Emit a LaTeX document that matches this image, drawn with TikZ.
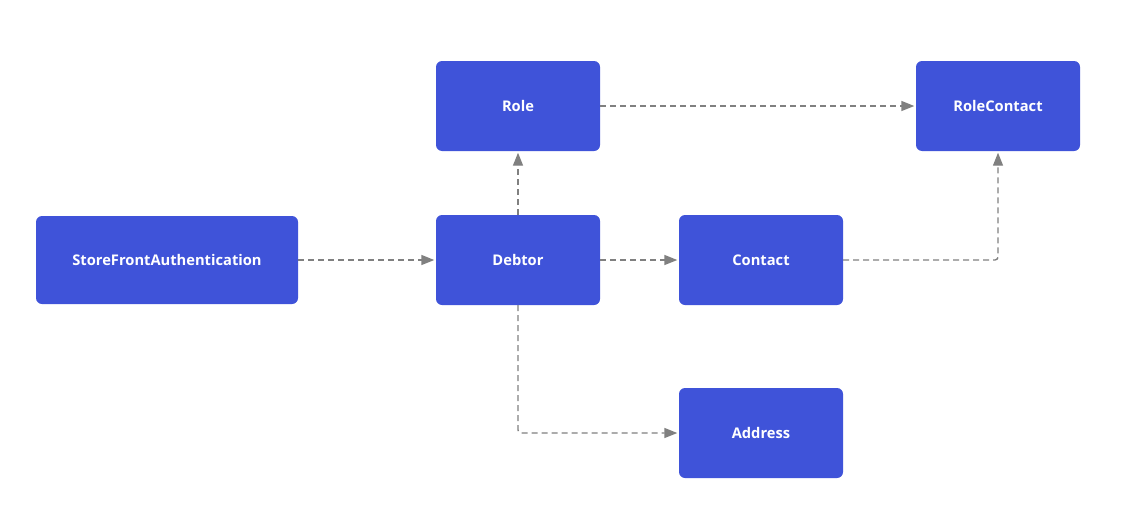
\documentclass[tikz,border=0pt]{standalone}
\usepackage{fontspec}
\setmainfont{Open Sans}
\usetikzlibrary{arrows.meta}

\definecolor{boxblue}{HTML}{3F53D9}
\definecolor{linkgray}{HTML}{808080}

\begin{document}
\begin{tikzpicture}[x=1pt,y=-1pt,
  entity/.style={draw=none,fill=boxblue,rounded corners=6pt,text=white,
    font=\fontsize{14.7}{17}\selectfont\bfseries,
    minimum width=164pt,minimum height=90pt,inner sep=0pt},
  link/.style={draw=linkgray,line width=1.4pt,dash pattern=on 6pt off 4pt,
    -{Triangle[length=13pt,width=10pt]},shorten >=1.5pt,rounded corners=3pt}]
  % 1. Canvas
  \useasboundingbox (0,0) rectangle (1137,522);

  % 2. Entities
  \node[entity,minimum width=262pt,minimum height=88pt] (auth) at (167,260) {StoreFrontAuthentication};
  \node[entity] (debtor)      at (518,260) {Debtor};
  \node[entity] (role)        at (518,106) {Role};
  \node[entity] (rolecontact) at (998,106) {RoleContact};
  \node[entity] (contact)     at (761,260) {Contact};
  \node[entity] (address)     at (761,433) {Address};

  % 3. Links
  \draw[link] (auth) -- (debtor);
  \draw[link] (debtor) -- (role);
  \draw[link] (role) -- (rolecontact);
  \draw[link] (debtor) -- (contact);
  \draw[link] (contact.east) -| (rolecontact.south);
  \draw[link] (debtor.south) |- (address.west);
\end{tikzpicture}
\end{document}
